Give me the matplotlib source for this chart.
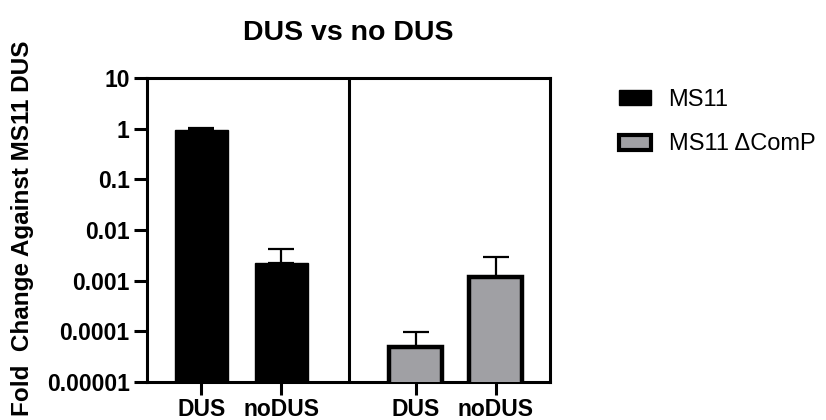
import matplotlib
matplotlib.use("Agg")
import matplotlib.pyplot as plt
from matplotlib.patches import Patch
from matplotlib.ticker import FixedLocator, FixedFormatter, NullLocator

plt.rcParams['font.family'] = ['Liberation Sans', 'DejaVu Sans']

title = "DUS vs no DUS"
ylabel = "Fold  Change Against MS11 DUS"
categories = ["DUS", "noDUS", "DUS", "noDUS"]
series = ["MS11", "MS11 \u0394ComP"]
ms11_vals = [0.93, 0.00224]
ms11_err = [0.12, 0.002]
comp_vals = [4.8e-5, 0.00119]
comp_err = [5.0e-5, 0.0018]
ytick_vals = [1e-5, 1e-4, 1e-3, 1e-2, 1e-1, 1, 10]
ytick_labels = ["0.00001", "0.0001", "0.001", "0.01", "0.1", "1", "10"]

x_ms11 = [0.0, 1.0]
x_comp = [2.675, 3.675]
sep_x = 1.8375
gray = '#A0A0A4'

fig = plt.figure(figsize=(8.26, 4.2), dpi=100)
ax = fig.add_axes([147/826, 1-382/420, (550-147)/826, (382-78)/420])
ax.set_yscale('log')
ax.set_ylim(1e-5, 10)
ax.set_xlim(-0.675, 4.35)

w = 0.66
ax.bar(x_ms11, ms11_vals, width=w, color='black', edgecolor='black', linewidth=1, zorder=3)
ax.bar(x_comp, comp_vals, width=w, color=gray, edgecolor='black', linewidth=3.2, zorder=3)

ax.errorbar(x_ms11, ms11_vals, yerr=[[0]*2, ms11_err], fmt='none', ecolor='black',
            elinewidth=1.6, capsize=9.7, capthick=1.6, zorder=2)
ax.errorbar(x_comp, comp_vals, yerr=[[0]*2, comp_err], fmt='none', ecolor='black',
            elinewidth=1.6, capsize=9.7, capthick=1.6, zorder=2)

ax.axvline(sep_x, color='black', linewidth=2.2, zorder=4)

for s in ax.spines.values():
    s.set_linewidth(2.2)

ax.yaxis.set_major_locator(FixedLocator(ytick_vals))
ax.yaxis.set_major_formatter(FixedFormatter(ytick_labels))
ax.yaxis.set_minor_locator(NullLocator())
ax.set_xticks(x_ms11 + x_comp)
ax.set_xticklabels(categories)
ax.tick_params(axis='both', which='major', length=9.5, width=2.2, labelsize=16.5, pad=3)
ax.tick_params(axis='x', pad=2)
for lbl in ax.get_yticklabels() + ax.get_xticklabels():
    lbl.set_fontweight('bold')

ax.set_title(title, fontsize=20.5, fontweight='bold', pad=27)
fig.text(23/826, 1-228/420, ylabel, rotation=90, fontsize=17.5, fontweight='bold',
         ha='center', va='center')

handles = [Patch(facecolor='black', edgecolor='black', linewidth=1),
           Patch(facecolor=gray, edgecolor='black', linewidth=3)]
fig.legend(handles, series, loc='upper left', bbox_to_anchor=(619/826, 1-89/420),
           frameon=False, fontsize=17, handlelength=1.35, handleheight=0.6,
           handletextpad=0.75, labelspacing=0.95, borderpad=0, borderaxespad=0)

fig.savefig('out.png', dpi=100)
